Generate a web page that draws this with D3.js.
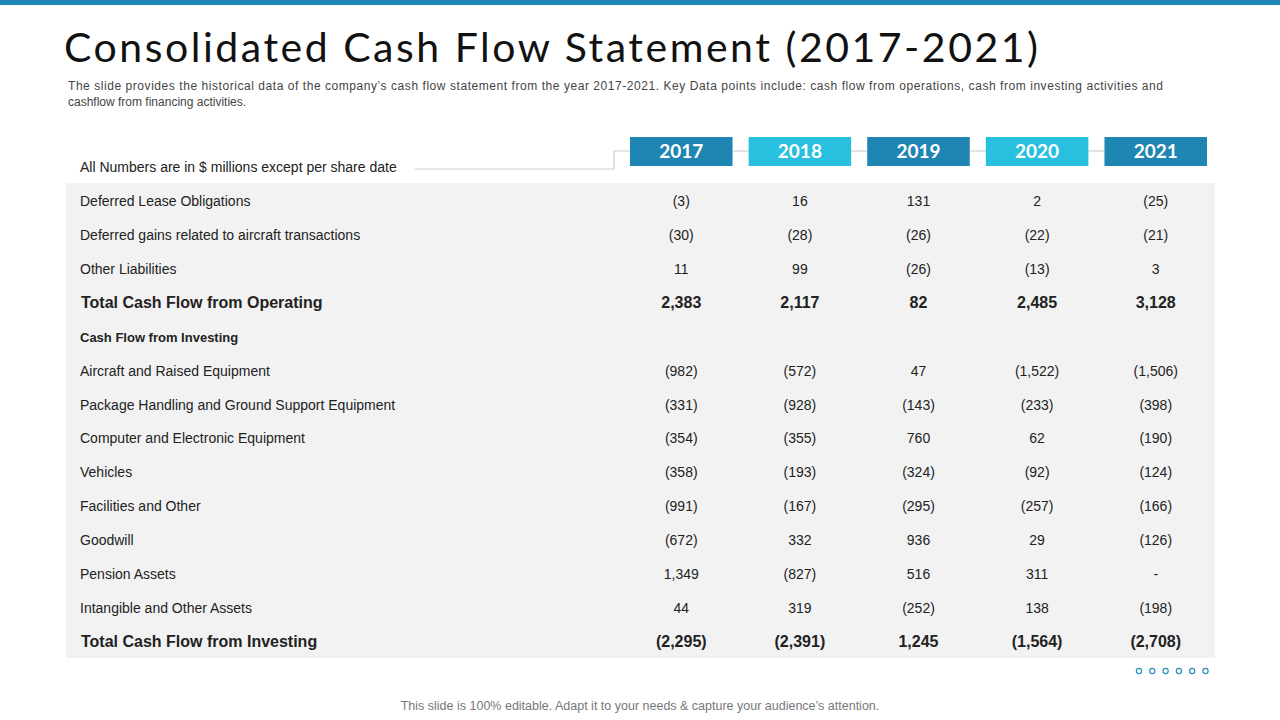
<!DOCTYPE html>
<html><head><meta charset="utf-8">
<script src="https://cdn.jsdelivr.net/npm/d3@7"></script>
<style>body{margin:0;background:#fff}svg{display:block}</style>
</head><body><div id="chart"></div>
<script>
const years = ["2017", "2018", "2019", "2020", "2021"];
const rowLabels = [
  "Deferred Lease Obligations",
  "Deferred gains related to aircraft transactions",
  "Other Liabilities",
  "Total  Cash Flow from Operating",
  "Cash Flow from Investing",
  "Aircraft and Raised Equipment",
  "Package Handling and Ground Support Equipment",
  "Computer and Electronic Equipment",
  "Vehicles",
  "Facilities and Other",
  "Goodwill",
  "Pension Assets",
  "Intangible and Other Assets",
  "Total Cash Flow from Investing"
];
const rowValues = [
  ["(3)", "16", "131", "2", "(25)"],
  ["(30)", "(28)", "(26)", "(22)", "(21)"],
  ["11", "99", "(26)", "(13)", "3"],
  ["2,383", "2,117", "82", "2,485", "3,128"],
  ["", "", "", "", ""],
  ["(982)", "(572)", "47", "(1,522)", "(1,506)"],
  ["(331)", "(928)", "(143)", "(233)", "(398)"],
  ["(354)", "(355)", "760", "62", "(190)"],
  ["(358)", "(193)", "(324)", "(92)", "(124)"],
  ["(991)", "(167)", "(295)", "(257)", "(166)"],
  ["(672)", "332", "936", "29", "(126)"],
  ["1,349", "(827)", "516", "311", "-"],
  ["44", "319", "(252)", "138", "(198)"],
  ["(2,295)", "(2,391)", "1,245", "(1,564)", "(2,708)"]
];
const boldRows = [3, 13];
const subHeadRows = [4];

const W = 1280, H = 720;
const svg = d3.select("#chart").append("svg").attr("width", W).attr("height", H);
const sans = "'Liberation Sans', Arial, sans-serif";

svg.append("rect").attr("x", 0).attr("y", 0).attr("width", W).attr("height", 5).attr("fill", "#1f86b3");

svg.append("text").attr("x", 64).attr("y", 62)
  .attr("font-family", "Lato, 'Open Sans', sans-serif").attr("font-size", 41).attr("fill", "#111")
  .attr("textLength", 974).attr("lengthAdjust", "spacing")
  .text("Consolidated Cash Flow Statement (2017-2021)");

const desc = ["The slide provides  the historical data of the company’s cash flow  statement from  the year 2017-2021.  Key Data points include: cash flow from operations, cash from investing activities and",
  "cashflow from financing activities."];
desc.forEach((t, i) => {
  const el = svg.append("text").attr("x", 68).attr("y", 90 + i * 16)
    .attr("font-family", sans).attr("font-size", 12).attr("fill", "#444").text(t);
  if (i === 0) el.attr("textLength", 1095).attr("lengthAdjust", "spacing");
});

// scales
const x = d3.scaleBand().domain(years).range([630, 1207]).paddingInner(0.1355);
const y = d3.scalePoint().domain(d3.range(rowLabels.length)).range([201, 642]);

// table background
svg.append("rect").attr("x", 66).attr("y", 183).attr("width", 1149).attr("height", 475).attr("fill", "#f2f2f2");

// connector lines
svg.append("path").attr("d", `M415,169H614V151H${x("2017")}`)
  .attr("fill", "none").attr("stroke", "#d0d0d0").attr("stroke-width", 1.2);
years.slice(1).forEach((yr, i) => {
  svg.append("line").attr("x1", x(years[i]) + x.bandwidth()).attr("x2", x(yr))
    .attr("y1", 151).attr("y2", 151).attr("stroke", "#d0d0d0").attr("stroke-width", 1.2);
});
svg.append("text").attr("x", 80).attr("y", 172).attr("font-family", sans).attr("font-size", 14)
  .attr("fill", "#222").text("All Numbers are in $ millions except per share date");

// year boxes
const hdr = svg.selectAll("g.hdr").data(years).join("g").attr("class", "hdr");
hdr.append("rect").attr("x", d => x(d)).attr("y", 137).attr("width", x.bandwidth()).attr("height", 29)
  .attr("fill", (d, i) => i % 2 ? "#29c0e0" : "#1f86b3");
hdr.append("text").attr("x", d => x(d) + x.bandwidth() / 2).attr("y", 158).attr("text-anchor", "middle")
  .attr("font-family", "Lato, sans-serif").attr("font-weight", "bold").attr("font-size", 19)
  .attr("fill", "#fff").text(d => d);

// rows
rowLabels.forEach((lab, r) => {
  const bold = boldRows.includes(r), sub = subHeadRows.includes(r);
  svg.append("text").attr("x", bold ? 81 : 80).attr("y", y(r) + 5)
    .attr("font-family", sans).attr("font-size", bold ? 16 : (sub ? 13 : 14))
    .attr("font-weight", bold || sub ? "bold" : "normal").attr("fill", "#222").text(lab);
  rowValues[r].forEach((v, c) => {
    svg.append("text").attr("x", x(years[c]) + x.bandwidth() / 2).attr("y", y(r) + 5)
      .attr("text-anchor", "middle").attr("font-family", sans)
      .attr("font-size", bold ? 16 : 14).attr("font-weight", bold ? "bold" : "normal")
      .attr("fill", "#222").text(v);
  });
});

// dots
d3.range(6).forEach(i => svg.append("circle").attr("cx", 1139 + i * 13.3).attr("cy", 671).attr("r", 2.6)
  .attr("fill", "none").attr("stroke", "#2a8fb8").attr("stroke-width", 1.2));

svg.append("text").attr("x", 640).attr("y", 710).attr("text-anchor", "middle").attr("font-family", sans)
  .attr("font-size", 12.5).attr("fill", "#777")
  .text("This slide is 100% editable. Adapt it to your needs & capture your audience’s attention.");
</script></body></html>
